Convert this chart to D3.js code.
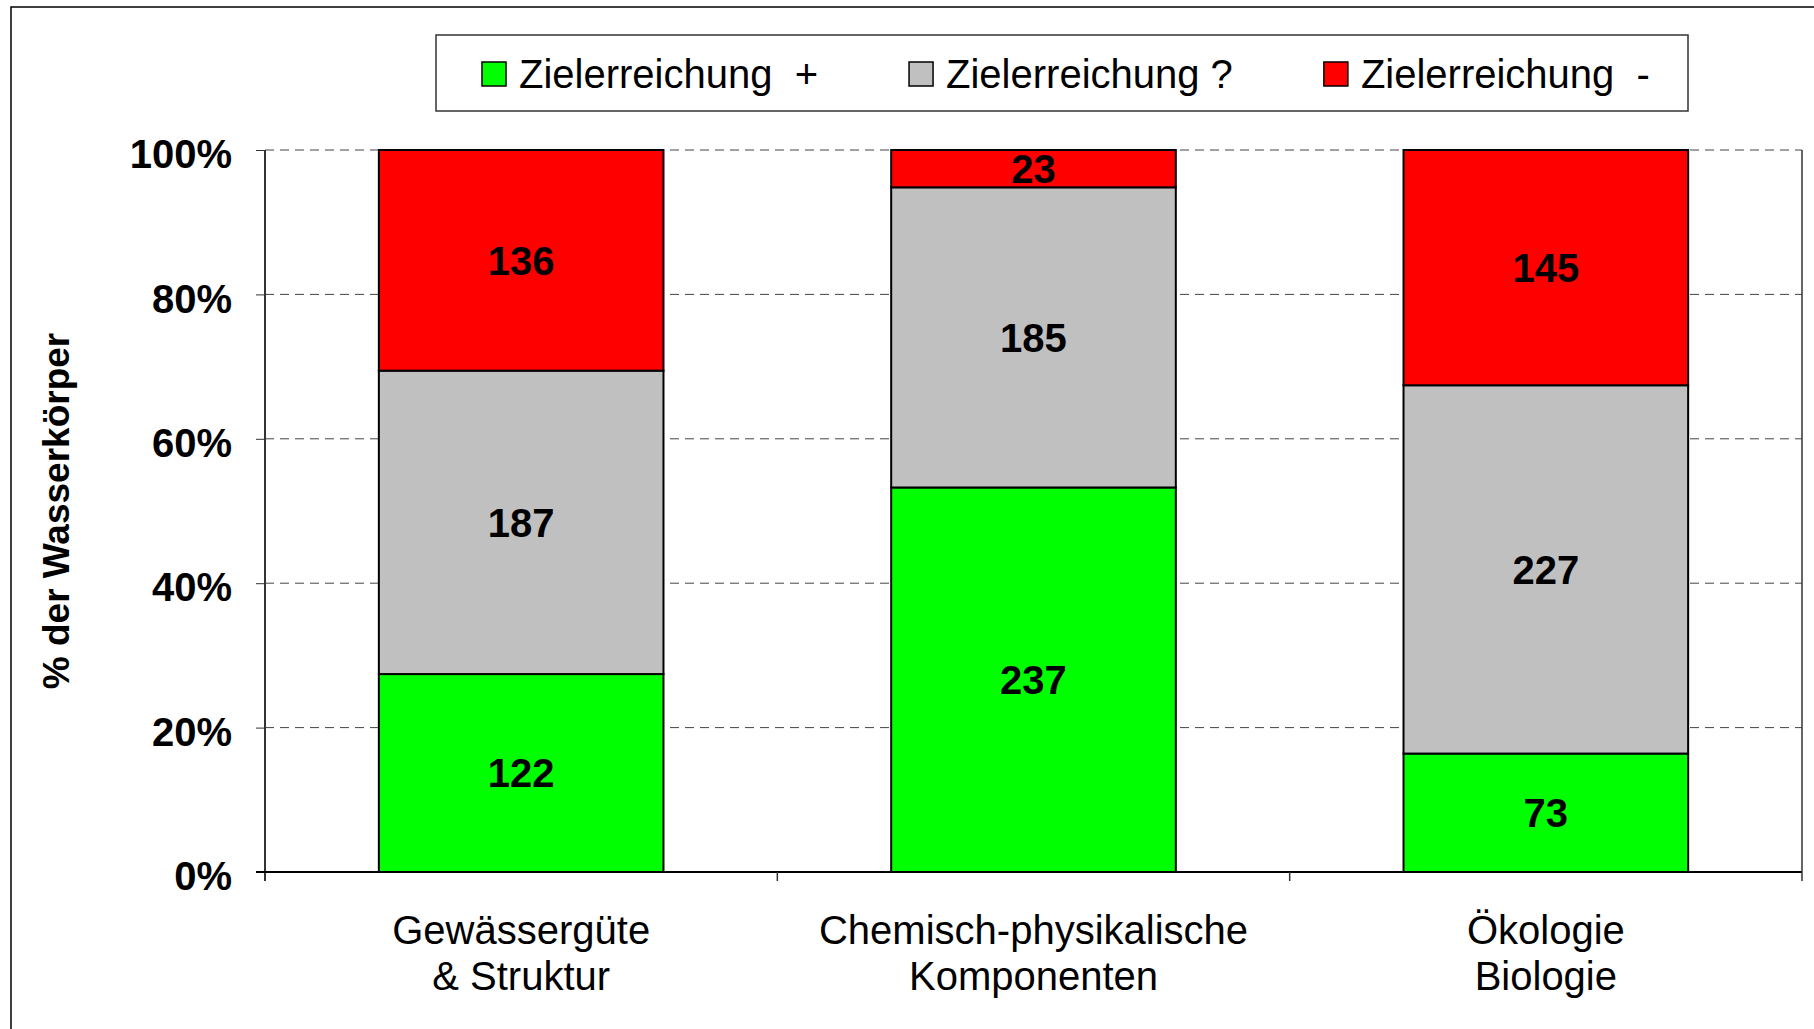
<!DOCTYPE html>
<html>
<head>
<meta charset="utf-8">
<script src="https://cdn.jsdelivr.net/npm/d3@7"></script>
<style>
  html, body { margin: 0; padding: 0; background: #fff; }
  svg { display: block; font-family: "Liberation Sans", Arial, sans-serif; }
  .leg text { white-space: pre; }
</style>
</head>
<body>
<svg id="chart" width="1814" height="1029"></svg>
<script>
// Datos del gráfico
const categorias = [['Gewässergüte', '& Struktur'], ['Chemisch-physikalische', 'Komponenten'], ['Ökologie', 'Biologie']];
const series = ['Zielerreichung  +', 'Zielerreichung ?', 'Zielerreichung  -'];
const zielPlus = [122, 237, 73];
const zielFrage = [187, 185, 227];
const zielMinus = [136, 23, 145];
const yTicks = [0, 0.2, 0.4, 0.6, 0.8, 1];
const colores = ['#00ff00', '#c0c0c0', '#ff0000'];

const svg = d3.select('#chart');
const margin = {top: 150, left: 265, right: 12, bottom: 157};
const W = 1814, H = 1029;
const plotW = W - margin.left - margin.right;
const plotH = H - margin.top - margin.bottom;

// Marco exterior
svg.append('rect')
  .attr('x', 11).attr('y', 7)
  .attr('width', W + 20).attr('height', H + 20)
  .attr('fill', 'none').attr('stroke', '#000').attr('stroke-width', 1.5);

const g = svg.append('g').attr('transform', `translate(${margin.left},${margin.top})`);

const x = d3.scaleBand().domain(d3.range(categorias.length)).range([0, plotW]).padding(0);
const y = d3.scaleLinear().domain([0, 1]).range([plotH, 0]);
const barW = x.bandwidth() / 1.8;

// Líneas de rejilla
g.selectAll('.grid')
  .data(yTicks.filter(d => d > 0))
  .enter().append('line')
    .attr('x1', 0).attr('x2', plotW)
    .attr('y1', d => y(d)).attr('y2', d => y(d))
    .attr('stroke', '#444').attr('stroke-width', 1)
    .attr('stroke-dasharray', '9,6');

// Apilar datos
const filas = categorias.map((c, i) => ({i, v: [zielPlus[i], zielFrage[i], zielMinus[i]]}));
filas.forEach(f => {
  const total = d3.sum(f.v);
  let acc = 0;
  f.seg = f.v.map((v, k) => {
    const s = {k, v, y0: acc / total, y1: (acc + v) / total};
    acc += v;
    return s;
  });
});

const barras = g.selectAll('.bar')
  .data(filas)
  .enter().append('g')
    .attr('transform', d => `translate(${x(d.i) + (x.bandwidth() - barW) / 2},0)`);

barras.selectAll('rect')
  .data(d => d.seg)
  .enter().append('rect')
    .attr('x', 0)
    .attr('width', barW)
    .attr('y', d => y(d.y1))
    .attr('height', d => y(d.y0) - y(d.y1))
    .attr('fill', d => colores[d.k])
    .attr('stroke', '#000').attr('stroke-width', 2);

barras.selectAll('text')
  .data(d => d.seg)
  .enter().append('text')
    .attr('x', barW / 2)
    .attr('y', d => (y(d.y0) + y(d.y1)) / 2)
    .attr('dy', '0.36em')
    .attr('text-anchor', 'middle')
    .attr('font-weight', 'bold')
    .attr('font-size', 40)
    .text(d => d.v);

// Eje Y
const yAxis = g.append('g')
  .call(d3.axisLeft(y).tickValues(yTicks).tickFormat(d3.format('.0%')).tickSize(9).tickPadding(24));
yAxis.select('.domain').attr('stroke', '#333').attr('stroke-width', 2).attr('d', `M0,0V${plotH + 9}`);
yAxis.selectAll('.tick line').attr('stroke', '#333');
yAxis.selectAll('.tick text')
  .attr('font-size', 40).attr('font-weight', 'bold').attr('fill', '#000')
  .attr('font-family', '"Liberation Sans", Arial, sans-serif')
  .attr('dy', '0.44em');

// Eje X (línea base y marcas entre categorías)
g.append('line')
  .attr('x1', -9).attr('x2', plotW)
  .attr('y1', plotH).attr('y2', plotH)
  .attr('stroke', '#000').attr('stroke-width', 2);

g.selectAll('.xtick')
  .data(d3.range(categorias.length + 1))
  .enter().append('line')
    .attr('x1', d => d * x.step()).attr('x2', d => d * x.step())
    .attr('y1', d => d === categorias.length ? 0 : plotH)
    .attr('y2', plotH + 9)
    .attr('stroke', '#333').attr('stroke-width', d => d === 0 ? 0 : 1.5);

const catText = g.selectAll('.cat')
  .data(categorias)
  .enter().append('text')
    .attr('text-anchor', 'middle')
    .attr('font-size', 40)
    .attr('transform', (d, i) => `translate(${x(i) + x.bandwidth() / 2},${plotH + 72})`);
catText.selectAll('tspan')
  .data(d => d)
  .enter().append('tspan')
    .attr('x', 0)
    .attr('y', (d, j) => j * 46)
    .text(d => d);

// Título eje Y
svg.append('text')
  .attr('transform', `translate(69,${margin.top + plotH / 2}) rotate(-90)`)
  .attr('text-anchor', 'middle')
  .attr('font-weight', 'bold')
  .attr('font-size', 37)
  .text('% der Wasserkörper');

// Leyenda
const leg = svg.append('g').attr('class', 'leg');
leg.append('rect')
  .attr('x', 436).attr('y', 35)
  .attr('width', 1252).attr('height', 76)
  .attr('fill', '#fff').attr('stroke', '#333').attr('stroke-width', 1.5);

let lx = 482;
series.forEach((s, k) => {
  leg.append('rect')
    .attr('x', lx).attr('y', 62)
    .attr('width', 24).attr('height', 24)
    .attr('fill', colores[k]).attr('stroke', '#000').attr('stroke-width', 1.5);
  const t = leg.append('text')
    .attr('x', lx + 37).attr('y', 88)
    .attr('font-size', 40)
    .text(s);
  lx += 37 + t.node().getComputedTextLength() + 91;
});
</script>
</body>
</html>
